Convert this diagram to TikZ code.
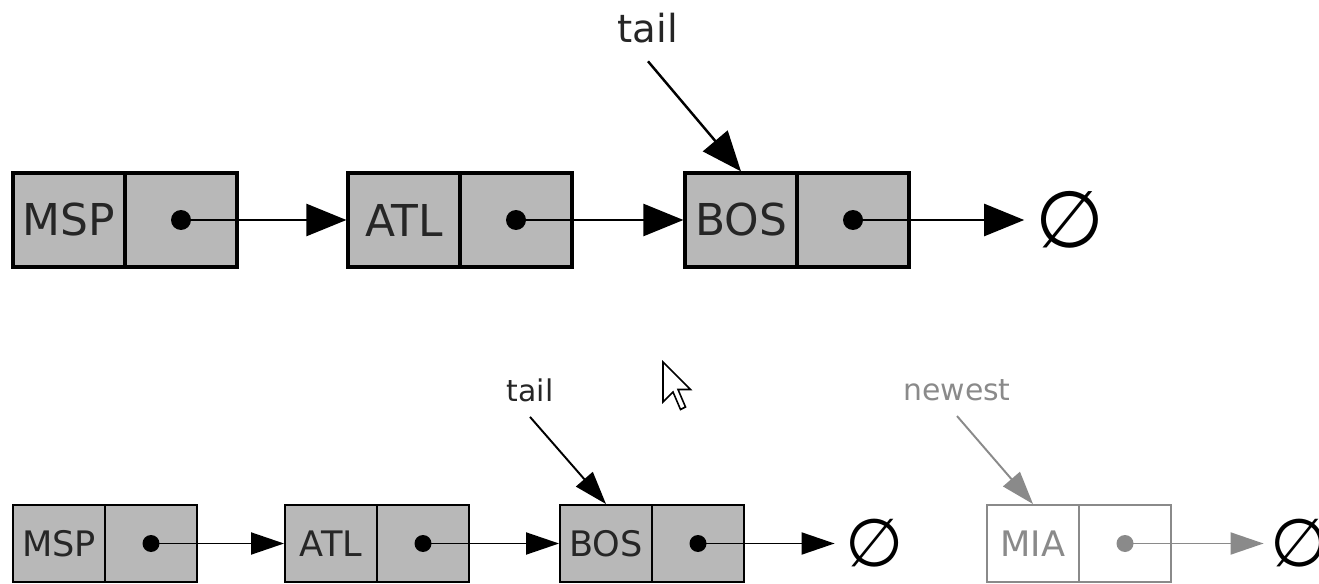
\documentclass[tikz,border=0pt]{standalone}
\usepackage{fontspec}
\setmainfont{DejaVu Sans}
\usetikzlibrary{arrows.meta}
\definecolor{cellgray}{HTML}{B8B8B8}
\definecolor{newgray}{HTML}{8A8A8A}
\newcommand{\px}{0.02cm}
\newcommand{\bigfont}{\fontsize{25}{30}\selectfont}
\newcommand{\smallfont}{\fontsize{20}{24}\selectfont}

\begin{document}
\begin{tikzpicture}[x=\px, y=-\px,
  bigcell/.style={draw, fill=cellgray, line width=1.8pt, inner sep=0pt,
    minimum width=112*\px, minimum height=94*\px, font=\bigfont, text=black!85},
  smallcell/.style={draw, fill=cellgray, line width=1.1pt, inner sep=0pt,
    minimum width=92*\px, minimum height=77*\px, font=\smallfont, text=black!85},
  newcell/.style={smallcell, draw=newgray, fill=white, text=newgray},
  bigarrow/.style={line width=1.4pt, -{Triangle[length=0.8cm, width=0.64cm]}},
  smallarrow/.style={line width=1.1pt, -{Triangle[length=0.66cm, width=0.44cm]}},
  ptrname/.style={inner sep=0.36cm, text=black!85},
  nullset/.style={inner sep=0pt, font=\fontsize{45}{54}\selectfont}]
\useasboundingbox (0,0) rectangle (1319,584);
% before
\node[bigcell] (1) at (69,220) {MSP};
\node[bigcell] (1p) at (181,220) {};
\node[bigcell] (2) at (404,220) {ATL};
\node[bigcell] (2p) at (516,220) {};
\node[bigcell] (3) at (741,220) {BOS};
\node[bigcell] (3p) at (853,220) {};
\node[nullset] (n1) at (1070,220) {∅};
\node[ptrname, font=\fontsize{22}{26}\selectfont] (t1) at (648,28) {tail};
\fill (1p) circle (0.2cm);
\fill (2p) circle (0.2cm);
\fill (3p) circle (0.2cm);
\draw[bigarrow] (1p.center) -- (2.west);
\draw[bigarrow] (2p.center) -- (3.west);
\draw[bigarrow, shorten >=0.22cm] (3p.center) -- (n1.west);
\draw[bigarrow] (t1.south) -- (3.north);
% after
\node[smallcell] (4) at (59,543.5) {MSP};
\node[smallcell] (4p) at (151,543.5) {};
\node[smallcell] (5) at (331,543.5) {ATL};
\node[smallcell] (5p) at (423,543.5) {};
\node[smallcell] (6) at (606,543.5) {BOS};
\node[smallcell] (6p) at (698,543.5) {};
\node[nullset, font=\fontsize{38}{45}\selectfont] (n2) at (875,543.5) {∅};
\node[ptrname, inner sep=0.3cm, font=\fontsize{17}{20}\selectfont] (t2) at (530,390) {tail};
\fill (4p) circle (0.17cm);
\fill (5p) circle (0.17cm);
\fill (6p) circle (0.17cm);
\draw[smallarrow] (4p.center) -- (5.west);
\draw[smallarrow] (5p.center) -- (6.west);
\draw[smallarrow, shorten >=0.22cm] (6p.center) -- (n2.west);
\draw[smallarrow] (t2.south) -- (6.north);
% new node
\node[newcell] (7) at (1033,543.5) {MIA};
\node[newcell] (7p) at (1125,543.5) {};
\node[nullset, font=\fontsize{38}{45}\selectfont] (n3) at (1300,543.5) {∅};
\node[ptrname, inner sep=0.3cm, text=newgray, font=\fontsize{17}{20}\selectfont] (nw) at (957,390) {newest};
\fill[newgray] (7p) circle (0.17cm);
\draw[smallarrow, newgray, shorten >=0.14cm] (7p.center) -- (n3.west);
\draw[smallarrow, newgray] (nw.south) -- (7.north);
% pointer
\draw[fill=white, line width=0.9pt] (663,362) -- (663,402) -- (673,392) -- (680.5,409.5)
  -- (685.5,407) -- (678,389.5) -- (690.5,389.5) -- cycle;
\end{tikzpicture}
\end{document}
